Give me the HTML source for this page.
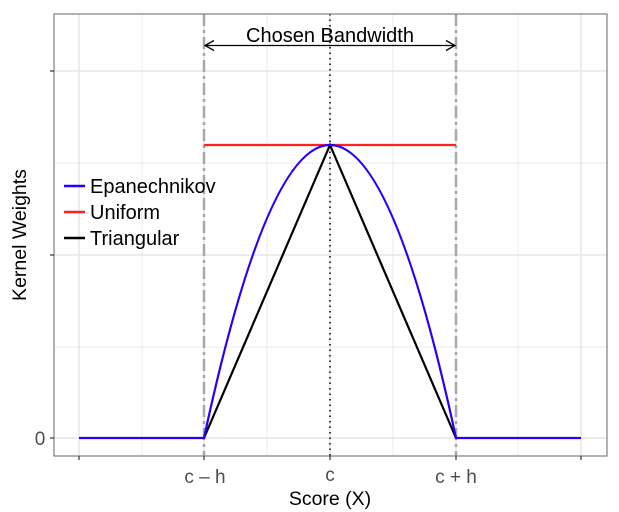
<!DOCTYPE html>
<html><head><style>body{margin:0;background:#fff}svg{display:block}</style></head><body>
<svg width="619" height="512" xmlns="http://www.w3.org/2000/svg" font-family="Liberation Sans, sans-serif">
<rect x="0" y="0" width="619" height="512" fill="#fff"/>
<g stroke="#ebebeb" stroke-width="1">
<line x1="54" x2="607" y1="163" y2="163"/><line x1="54" x2="607" y1="347" y2="347"/>
<line x1="142" x2="142" y1="14" y2="456"/><line x1="267" x2="267" y1="14" y2="456"/><line x1="393" x2="393" y1="14" y2="456"/><line x1="518" x2="518" y1="14" y2="456"/>
</g>
<g stroke="#e5e5e5" stroke-width="1.5">
<line x1="54" x2="607" y1="71" y2="71"/><line x1="54" x2="607" y1="255" y2="255"/><line x1="54" x2="607" y1="438" y2="438"/>
<line x1="79" x2="79" y1="14" y2="456"/><line x1="204" x2="204" y1="14" y2="456"/><line x1="330" x2="330" y1="14" y2="456"/><line x1="456" x2="456" y1="14" y2="456"/><line x1="581" x2="581" y1="14" y2="456"/>
</g>
<line x1="204" x2="204" y1="14" y2="456" stroke="#a8a8a8" stroke-width="2.5" stroke-dasharray="12,4,3,4"/>
<line x1="456" x2="456" y1="14" y2="456" stroke="#a8a8a8" stroke-width="2.5" stroke-dasharray="12,4,3,4"/>
<line x1="330" x2="330" y1="14" y2="456" stroke="#000" stroke-width="1.5" stroke-dasharray="1.5,4"/>
<line x1="204" x2="456" y1="145" y2="145" stroke="#ff2020" stroke-width="2.2"/>
<polyline points="204,438 330,145 456,438" fill="none" stroke="#000" stroke-width="2.2"/>
<path d="M79,438 L204,438 Q330,-148 456,438 L581,438" fill="none" stroke="#2200ff" stroke-width="2.2"/>
<line x1="205" x2="455" y1="45.5" y2="45.5" stroke="#000" stroke-width="1.3"/>
<polyline points="214,40.5 205,45.5 214,50.5" fill="none" stroke="#000" stroke-width="1.3"/>
<polyline points="446,40.5 455,45.5 446,50.5" fill="none" stroke="#000" stroke-width="1.3"/>
<text x="330" y="42" font-size="20" text-anchor="middle" fill="#000">Chosen Bandwidth</text>
<rect x="54" y="14" width="553" height="442" fill="none" stroke="#7f7f7f" stroke-width="1.2"/>
<g stroke="#333" stroke-width="1.2">
<line x1="50" x2="54" y1="71" y2="71"/><line x1="50" x2="54" y1="255" y2="255"/><line x1="50" x2="54" y1="438" y2="438"/>
<line x1="79" x2="79" y1="456" y2="460"/><line x1="204" x2="204" y1="456" y2="460"/><line x1="330" x2="330" y1="456" y2="460"/><line x1="456" x2="456" y1="456" y2="460"/><line x1="581" x2="581" y1="456" y2="460"/>
</g>
<g fill="#4d4d4d" font-size="19" text-anchor="middle">
<text x="40" y="445">0</text>
<text x="205" y="483">c – h</text>
<text x="330" y="481">c</text>
<text x="456" y="483">c + h</text>
</g>
<text x="330" y="505" font-size="19.5" text-anchor="middle">Score (X)</text>
<text transform="translate(26,235) rotate(-90)" font-size="19.5" text-anchor="middle">Kernel Weights</text>
<line x1="64" x2="85" y1="186" y2="186" stroke="#2200ff" stroke-width="2.5"/>
<line x1="64" x2="85" y1="212" y2="212" stroke="#ff2020" stroke-width="2.5"/>
<line x1="64" x2="85" y1="238" y2="238" stroke="#000" stroke-width="2.5"/>
<g font-size="20"><text x="90" y="193">Epanechnikov</text><text x="90" y="219">Uniform</text><text x="90" y="245">Triangular</text></g>
</svg>
</body></html>
